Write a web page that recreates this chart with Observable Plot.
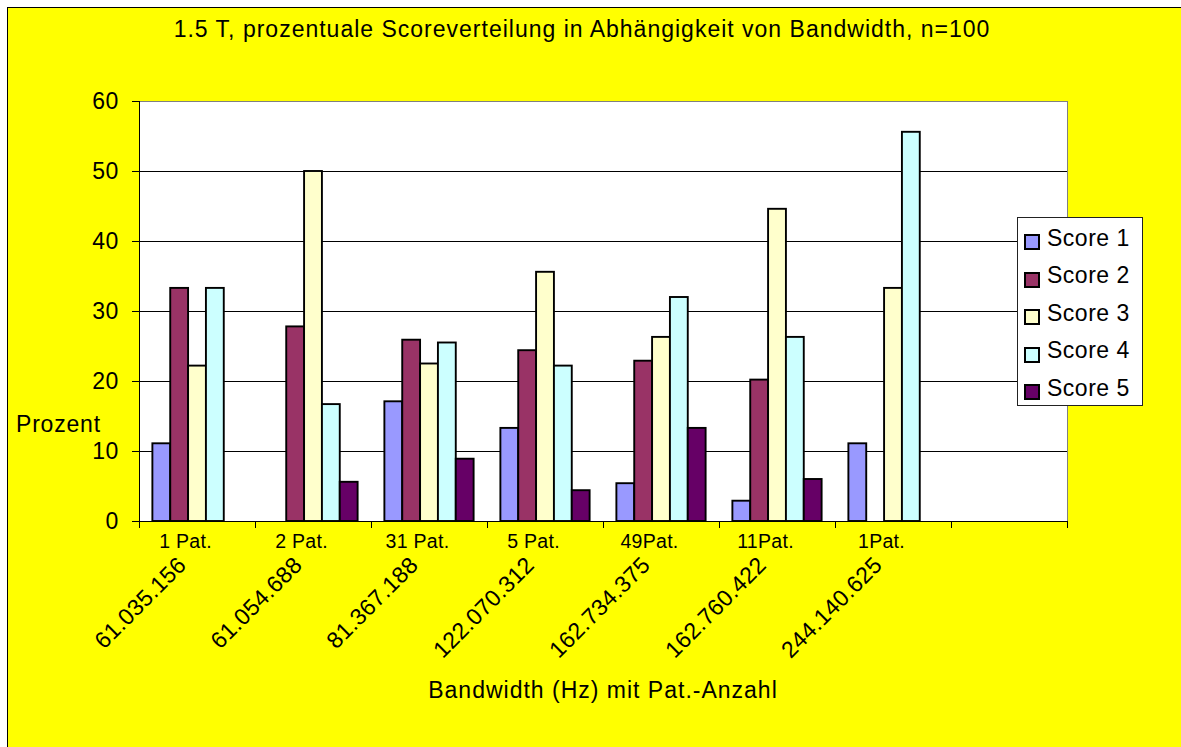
<!DOCTYPE html>
<html>
<head>
<meta charset="utf-8">
<script src="https://cdn.jsdelivr.net/npm/d3@7"></script>
<script src="https://cdn.jsdelivr.net/npm/@observablehq/plot@0.6"></script>
<style>
  html, body { margin: 0; padding: 0; background: #fff; }
  #chart { position: relative; width: 1181px; height: 747px; overflow: hidden;
           font-family: "Liberation Sans", Arial, sans-serif; color: #000; }
  #panel { position: absolute; left: 7px; top: 7px; width: 1200px; height: 760px;
           background: #ffff00; border-left: 1px solid #000; border-top: 1px solid #000; }
  #plot { position: absolute; left: 0; top: 0; }
  .lbl { position: absolute; font-size: 23px; line-height: 23px; white-space: nowrap; }
  #title { left: 0; width: 1164px; top: 17.5px; text-align: center; letter-spacing: 1px; }
  #ylabel { left: 16px; top: 412.5px; letter-spacing: 0.8px; }
  #xlabel { left: 0; width: 1206px; top: 678.5px; text-align: center; letter-spacing: 1px; }
  #legend { position: absolute; left: 1017px; top: 217px; width: 124px; height: 187px;
            background: #fff; border: 1px solid #222; }
  .sw { position: absolute; left: 6px; width: 12px; height: 12px; border: 2px solid #000; }
  .lt { position: absolute; left: 29px; font-size: 23px; line-height: 23px; letter-spacing: 0.5px; white-space: nowrap; }
</style>
</head>
<body>
<div id="chart">
  <div id="panel"></div>
  <div id="plot"></div>
  <div class="lbl" id="title"></div>
  <div class="lbl" id="ylabel"></div>
  <div class="lbl" id="xlabel"></div>
  <div id="legend"></div>
</div>
<script>
// Category slots along the x axis (the last slot is left empty)
const bandwidths = ["61.035.156", "61.054.688", "81.367.188", "122.070.312", "162.734.375", "162.760.422", "244.140.625", ""];
const patients   = ["1 Pat.", "2 Pat.", "31 Pat.", "5 Pat.", "49Pat.", "11Pat.", "1Pat.", ""];

// Percentage of patients per score, one array per score series
const scores = ["Score 1", "Score 2", "Score 3", "Score 4", "Score 5"];
const score1 = [11.1, 0,    17.1, 13.3, 5.4,  2.9,  11.1];
const score2 = [33.3, 27.8, 25.9, 24.4, 22.9, 20.2, 0];
const score3 = [22.2, 50.0, 22.5, 35.6, 26.3, 44.6, 33.3];
const score4 = [33.3, 16.7, 25.5, 22.2, 32.0, 26.3, 55.6];
const score5 = [0,    5.6,  8.9,  4.4,  13.3, 6.0,  0];
const scoreColors = ["#9999ff", "#993366", "#ffffcc", "#ccffff", "#660066"];

const yTicks = [0, 10, 20, 30, 40, 50, 60];

const titleText = "1.5 T, prozentuale Scoreverteilung in Abhängigkeit von Bandwidth, n=100";
const yLabelText = "Prozent";
const xLabelText = "Bandwidth (Hz) mit Pat.-Anzahl";

// Long-format table for the grouped bars
const series = [score1, score2, score3, score4, score5];
const rows = [];
series.forEach((vals, si) => vals.forEach((v, ci) => rows.push({ci, si, score: scores[si], value: v})));

// Grouped layout inside each category slot: gap of 150% of a bar width
const gapWidth = 1.5;
const barW = 1 / (scores.length + gapWidth);
const barOffset = gapWidth * barW / 2;

const slots = d3.range(bandwidths.length);
const labelled = slots.filter(i => bandwidths[i] !== "");

const chart = Plot.plot({
  width: 1181,
  height: 747,
  marginLeft: 139,
  marginRight: 114,
  marginTop: 101,
  marginBottom: 226,
  style: {background: "transparent", fontFamily: "'Liberation Sans', Arial, sans-serif", color: "#000", letterSpacing: "0.3px"},
  x: {type: "linear", domain: [0, bandwidths.length], axis: null},
  y: {domain: [0, 60], axis: null},
  color: {domain: scores, range: scoreColors},
  marks: [
    Plot.frame({fill: "#fff", stroke: "#808080"}),
    Plot.ruleY(yTicks.filter(t => t > 0 && t < 60), {stroke: "#000"}),
    Plot.rectY(rows.filter(d => d.value > 0), {
      x1: d => d.ci + barOffset + d.si * barW,
      x2: d => d.ci + barOffset + (d.si + 1) * barW,
      y1: 0,
      y2: "value",
      fill: "score",
      stroke: "#000",
      strokeWidth: 1.9
    }),
    Plot.ruleX([0], {stroke: "#000"}),
    Plot.ruleY([0], {stroke: "#000"}),
    Plot.axisY(yTicks, {tickSize: 7, tickPadding: 14, fontSize: 23, label: null}),
    Plot.axisX(slots.concat([bandwidths.length]), {tickSize: 7, tickFormat: () => "", label: null}),
    Plot.text(labelled, {
      x: i => i + 0.5, text: i => patients[i],
      frameAnchor: "bottom", lineAnchor: "bottom", dx: -12, dy: 26, fontSize: 19.5
    }),
    Plot.text(labelled, {
      x: i => i + 0.5, text: i => bandwidths[i],
      frameAnchor: "bottom", lineAnchor: "bottom", textAnchor: "end", rotate: -45,
      dx: -10, dy: 45, fontSize: 23
    })
  ]
});
document.getElementById("plot").appendChild(chart);

document.getElementById("title").textContent = titleText;
document.getElementById("ylabel").textContent = yLabelText;
document.getElementById("xlabel").textContent = xLabelText;

// Legend: one swatch and label per score series
const legend = document.getElementById("legend");
scores.forEach((s, i) => {
  const sw = document.createElement("div");
  sw.className = "sw";
  sw.style.top = (16 + 37.5 * i) + "px";
  sw.style.background = scoreColors[i];
  legend.appendChild(sw);
  const t = document.createElement("div");
  t.className = "lt";
  t.style.top = (8.5 + 37.5 * i) + "px";
  t.textContent = s;
  legend.appendChild(t);
});
</script>
</body>
</html>
